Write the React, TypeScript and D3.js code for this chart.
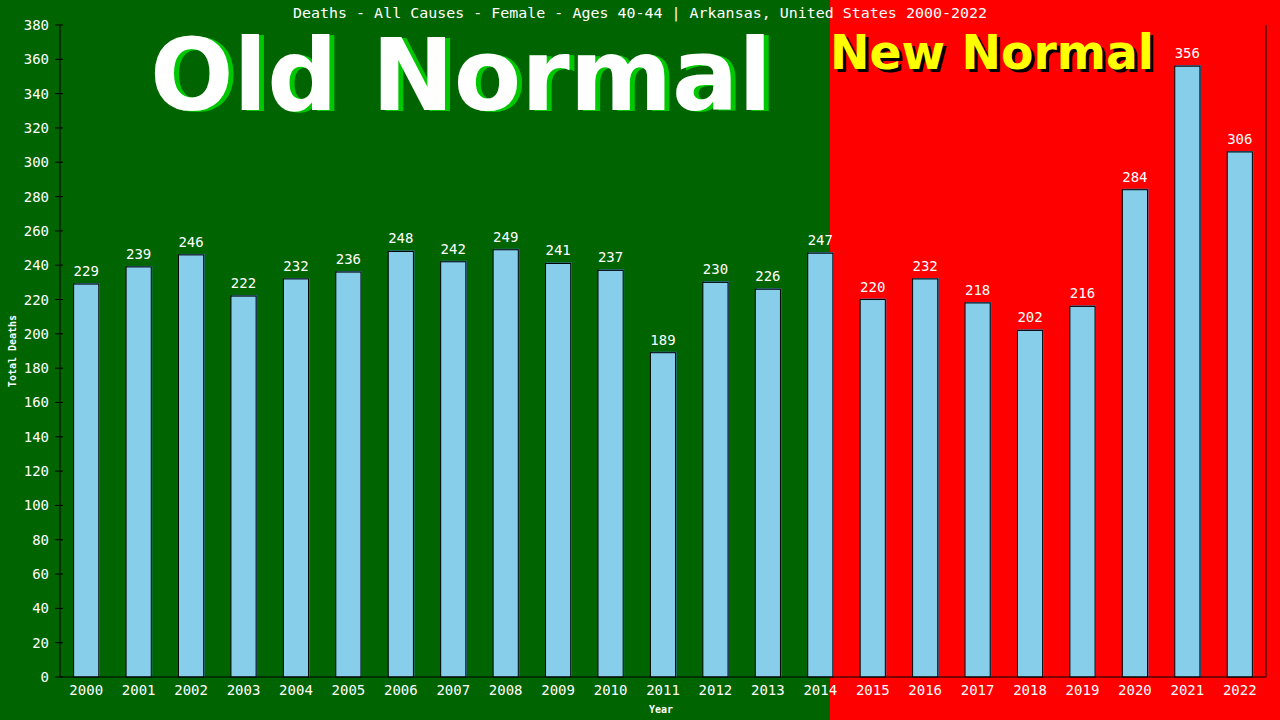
import React from 'react';
import * as d3 from 'd3';

const years = ['2000', '2001', '2002', '2003', '2004', '2005', '2006', '2007', '2008', '2009', '2010', '2011', '2012', '2013', '2014', '2015', '2016', '2017', '2018', '2019', '2020', '2021', '2022'];
const deaths = [229, 239, 246, 222, 232, 236, 248, 242, 249, 241, 237, 189, 230, 226, 247, 220, 232, 218, 202, 216, 284, 356, 306];
const yTicks = d3.range(0, 381, 20);

const title = 'Deaths - All Causes - Female - Ages 40-44 | Arkansas, United States 2000-2022';

const W = 1280;
const H = 720;
const margin = { left: 60, right: 14, top: 25, bottom: 43 };
const mono = '"DejaVu Sans Mono", monospace';
const bold = '"DejaVu Sans", Verdana, sans-serif';

const App: React.FC = () => {
  const x = d3
    .scaleBand<string>()
    .domain(years)
    .range([margin.left, W - margin.right])
    .paddingInner(0.52)
    .paddingOuter(0.26);
  const y = d3.scaleLinear().domain([0, 380]).range([H - margin.bottom, margin.top]);

  const splitX = 830;
  const x0 = margin.left;
  const x1 = W - margin.right;
  const yb = y(0);

  return (
    <svg width={W} height={H} style={{ position: 'absolute', left: 0, top: 0, display: 'block' }}>
      <rect x={0} y={0} width={splitX} height={H} fill="#006400" />
      <rect x={splitX} y={0} width={W - splitX} height={H} fill="#ff0000" />

      {/* big labels */}
      <text x={155} y={111} fontFamily={bold} fontWeight="bold" fontSize={100} fill="#00c800" textLength={622} lengthAdjust="spacingAndGlyphs">Old Normal</text>
      <text x={150} y={110} fontFamily={bold} fontWeight="bold" fontSize={100} fill="#ffffff" textLength={622} lengthAdjust="spacingAndGlyphs">Old Normal</text>
      <text x={833} y={72} fontFamily={bold} fontWeight="bold" fontSize={48} fill="#000000" textLength={324} lengthAdjust="spacingAndGlyphs">New Normal</text>
      <text x={830} y={69} fontFamily={bold} fontWeight="bold" fontSize={48} fill="#ffff00" textLength={324} lengthAdjust="spacingAndGlyphs">New Normal</text>

      <text x={293} y={18} fontFamily={mono} fontSize={14} fill="#fff" textLength={694} lengthAdjust="spacingAndGlyphs">{title}</text>

      {/* bars */}
      {years.map((yr, i) => {
        const bx = x(yr) as number;
        const bw = x.bandwidth();
        const top = y(deaths[i]);
        return (
          <g key={yr}>
            <rect x={bx + 1} y={top - 1} width={bw} height={yb - top + 1} fill="#4682b4" />
            <rect x={bx} y={top} width={bw} height={yb - top} fill="#87ceeb" stroke="#000" strokeWidth={1} />
            <text x={bx + bw / 2} y={top - 8} textAnchor="middle" fontFamily={mono} fontSize={14} fill="#fff">{deaths[i]}</text>
            <text x={bx + bw / 2} y={695} textAnchor="middle" fontFamily={mono} fontSize={14} fill="#fff">{yr}</text>
          </g>
        );
      })}

      {/* axes */}
      <line x1={x0} x2={x0} y1={margin.top} y2={yb} stroke="#000" />
      <line x1={x1} x2={x1} y1={margin.top} y2={yb} stroke="#000" />
      <line x1={x0} x2={x1} y1={yb} y2={yb} stroke="#000" />
      {yTicks.map((t) => (
        <g key={t}>
          <line x1={x0 - 5} x2={x0 + 3} y1={y(t)} y2={y(t)} stroke="#000" />
          <text x={x0 - 11} y={y(t) + 5} textAnchor="end" fontFamily={mono} fontSize={14} fill="#fff">{t}</text>
        </g>
      ))}

      <text x={661} y={713} textAnchor="middle" fontFamily={mono} fontWeight="bold" fontSize={10} fill="#fff">Year</text>
      <text transform={`translate(16, ${(margin.top + yb) / 2}) rotate(-90)`} textAnchor="middle" fontFamily={mono} fontWeight="bold" fontSize={10} fill="#fff">Total Deaths</text>
    </svg>
  );
};

export default App;
